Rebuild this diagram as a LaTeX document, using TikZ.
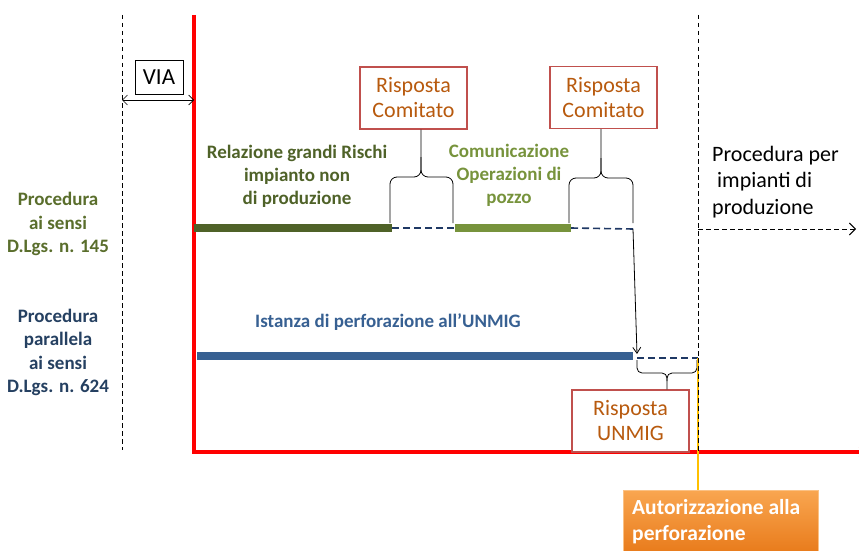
\documentclass[tikz,border=0pt]{standalone}
\usepackage{fontspec}
\setmainfont{Carlito}
\usetikzlibrary{arrows.meta}
\definecolor{axisred}{HTML}{FF0000}
\definecolor{olivedark}{HTML}{4F6228}
\definecolor{olivelight}{HTML}{77933C}
\definecolor{barblue}{HTML}{376092}
\definecolor{navy}{HTML}{1F3864}
\definecolor{boxred}{HTML}{C0504D}
\definecolor{boxtext}{HTML}{B85A0E}
\definecolor{labgreen}{HTML}{5A6E2C}
\definecolor{labblue}{HTML}{254061}
\definecolor{goldline}{HTML}{FFC000}
\definecolor{authtop}{HTML}{F9A650}
\definecolor{authbot}{HTML}{E87A1A}
\tikzset{
  respbox/.style={draw=boxred, line width=1.4pt, fill=white, text=boxtext,
    font=\fontsize{22}{25}\selectfont, align=center, inner sep=0pt},
  bartext/.style={font=\bfseries\fontsize{19}{23}\selectfont, align=center, inner sep=0pt},
  sidelab/.style={font=\bfseries\fontsize{19}{23.5}\selectfont, align=center, inner sep=0pt},
  guide/.style={line width=0.9pt, dash pattern=on 4.5pt off 3.5pt},
  pending/.style={navy, line width=1.6pt, dash pattern=on 7pt off 4pt},
  bracepath/.style={line width=0.8pt, rounded corners=7pt},
}
\begin{document}
\begin{tikzpicture}[x=1pt, y=-1pt]
\useasboundingbox (0,0) rectangle (859,551);

% vertical guide lines
\coordinate (viaTop) at (122,15);
\coordinate (viaBot) at (122,450);
\draw[guide] (viaTop) -- (viaBot);
\coordinate (prodTop) at (698,15);
\coordinate (prodBot) at (698,452);
\draw[guide] (prodTop) -- (prodBot);

% red time axes
\coordinate (axTop) at (194,15);
\coordinate (axCorner) at (194,452);
\coordinate (axEnd) at (868,452);
\draw[axisred, line width=3.2pt, -{Stealth[length=9pt,width=9pt]}] (axTop) -- (axCorner) -- (axEnd);

% VIA interval
\node[draw, line width=0.9pt, minimum width=48pt, minimum height=34pt, inner sep=0pt,
      font=\fontsize{23}{25}\selectfont] (via) at (159,77) {VIA};
\coordinate (viaL) at (122,100);
\coordinate (viaR) at (194,100);
\draw[{Straight Barb[length=5pt]}-{Straight Barb[length=5pt]}, line width=0.7pt] (viaL) -- (viaR);

% row labels
\node[sidelab, text=labgreen] (lab145) at (58,224) {Procedura\\ai sensi\\D.Lgs. n. 145};
\node[sidelab, text=labblue] (lab624) at (58,352.5) {Procedura\\parallela\\ai sensi\\D.Lgs. n. 624};

% D.Lgs. 145 row
\coordinate (g1s) at (194,228);
\coordinate (g1e) at (392,228);
\coordinate (g2s) at (455,228);
\coordinate (g2e) at (571,228);
\coordinate (g3e) at (633,229);
\draw[olivedark, line width=8.5pt] (g1s) -- (g1e);
\draw[pending] (g1e) -- (g2s);
\draw[olivelight, line width=8.5pt] (g2s) -- (g2e);
\draw[pending] (g2e) -- (g3e);

\node[bartext, text=olivedark] (relaz) at (297,176) {Relazione grandi Rischi\\impianto non\\di produzione};
\node[bartext, text=olivelight] (comun) at (509,175) {Comunicazione\\Operazioni di\\pozzo};

% committee answers
\node[respbox, minimum width=107pt, minimum height=62pt] (resp1) at (413.5,98) {Risposta\\Comitato};
\node[respbox, minimum width=107pt, minimum height=62pt] (resp2) at (603.5,97.5) {Risposta\\Comitato};

\coordinate (b1l) at (390,223);
\coordinate (b1r) at (453,223);
\coordinate (b1m) at (421,177);
\draw[bracepath] (b1l) -- (b1l |- b1m) -- (b1m) -- (b1m |- resp1.south);
\draw[bracepath] (b1r) -- (b1r |- b1m) -- (b1m) -- ++(0,-20);

\coordinate (b2l) at (569,223);
\coordinate (b2r) at (633,223);
\coordinate (b2m) at (601,178);
\draw[bracepath] (b2l) -- (b2l |- b2m) -- (b2m) -- (b2m |- resp2.south);
\draw[bracepath] (b2r) -- (b2r |- b2m) -- (b2m) -- ++(0,-20);

% production plants procedure
\node[font=\fontsize{22}{26.5}\selectfont, align=left, anchor=north west, inner sep=0pt] (prodtxt) at (712,146)
  {Procedura per\\\ impianti di\\produzione};
\coordinate (prodRow) at (698,229);
\coordinate (prodArr) at (856,229);
\draw[guide, -{Straight Barb[length=6pt]}] (prodRow) -- (prodArr);

% D.Lgs. 624 row
\coordinate (b1s) at (197,356);
\coordinate (b1e) at (633,356);
\coordinate (d2e) at (698,358);
\draw[barblue, line width=8.5pt] (b1s) -- (b1e);
\coordinate (d2s) at (637,358);
\draw[pending] (d2s) -- (d2e);
\node[bartext, text=barblue] (istanza) at (388,322) {Istanza di perforazione all’UNMIG};

% hand-over from committee to ministry
\draw[line width=0.8pt, -{Straight Barb[length=6pt,width=8pt]}] (g3e) -- (637,354);

% ministry answer
\node[respbox, minimum width=117pt, minimum height=62pt] (unmig) at (630.5,421) {Risposta\\UNMIG};
\coordinate (b3l) at (637,360);
\coordinate (b3r) at (697,360);
\coordinate (b3m) at (667,373);
\draw[bracepath, rounded corners=5pt] (b3l) -- (b3l |- b3m) -- (b3m) -- (b3m |- unmig.north);
\draw[bracepath, rounded corners=5pt] (b3r) -- (b3r |- b3m) -- (b3m) -- ++(0,8);

% drilling authorisation
\node[anchor=north west, minimum width=195pt, minimum height=64pt, inner sep=0pt,
      top color=authtop, bottom color=authbot,
      draw=authtop!70!white, line width=0.6pt] (auth) at (623,490) {};
\node[anchor=north west, align=left, text=white, inner sep=0pt,
      font=\bfseries\fontsize{21.5}{26}\selectfont] (authtxt) at (632,499) {Autorizzazione alla\\perforazione};
\coordinate (goldTop) at (698,358);
\draw[goldline, line width=2pt] (goldTop) -- (auth.north -| goldTop);
\draw[guide] (goldTop) -- (prodBot);
\end{tikzpicture}
\end{document}
